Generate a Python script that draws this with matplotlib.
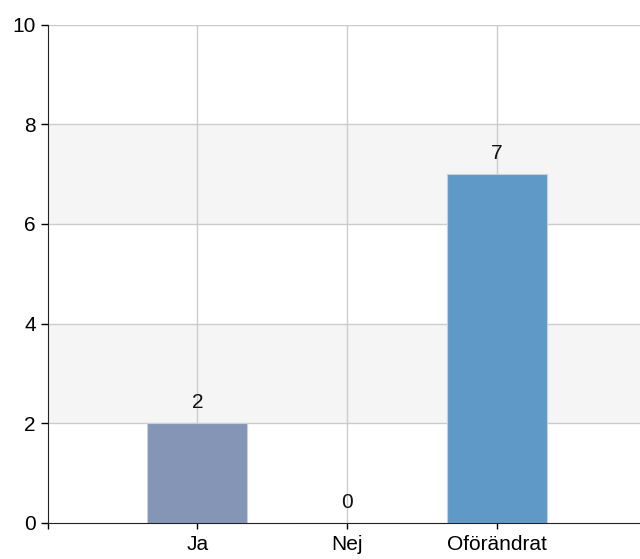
import numpy as np
import matplotlib.pyplot as plt

categories = ['Ja', 'Nej', 'Oförändrat']
values = [2, 0, 7]
colors = ['#8595b5', '#8595b5', '#5f99c8']

plt.rcParams['font.family'] = ['Liberation Sans', 'DejaVu Sans']
FS = 15

fig = plt.figure(figsize=(6.4, 5.59), dpi=100)
ax = fig.add_axes([47.5 / 640, 36 / 559, (640 - 47.5) / 640, (523 - 24.5) / 559])

x = np.arange(len(categories))

# alternating bands
for lo in (2, 6):
    ax.axhspan(lo, lo + 2, color='#f5f5f5', zorder=0, lw=0)
for yv in range(2, 11, 2):
    ax.axhline(yv, color='#cccccc', lw=1, zorder=1)
for xv in x:
    ax.axvline(xv, color='#cccccc', lw=1, zorder=1)

ax.bar(x, values, width=0.667, color=colors, edgecolor='#c8d0e0', linewidth=0.8, zorder=2)
for xi, v in zip(x, values):
    ax.annotate(str(v), (xi, v), xytext=(0, 10.8), textcoords='offset points',
                ha='center', va='baseline', fontsize=FS, color='#111111')

ax.set_xlim(-1, 2.953)
ax.set_ylim(0, 10)
ax.set_xticks(np.concatenate([[-1], x]))
ax.set_xticklabels([''] + categories, fontsize=FS)
ax.set_yticks(range(0, 11, 2))
ax.tick_params(axis='y', labelsize=FS, length=5, width=1, pad=3.5)
ax.tick_params(axis='x', length=4.5, width=1, pad=4)
for s in ('top', 'right'):
    ax.spines[s].set_visible(False)
ax.spines['left'].set_color('#222222')
ax.spines['bottom'].set_color('#222222')

fig.savefig('out.png', dpi=100)
